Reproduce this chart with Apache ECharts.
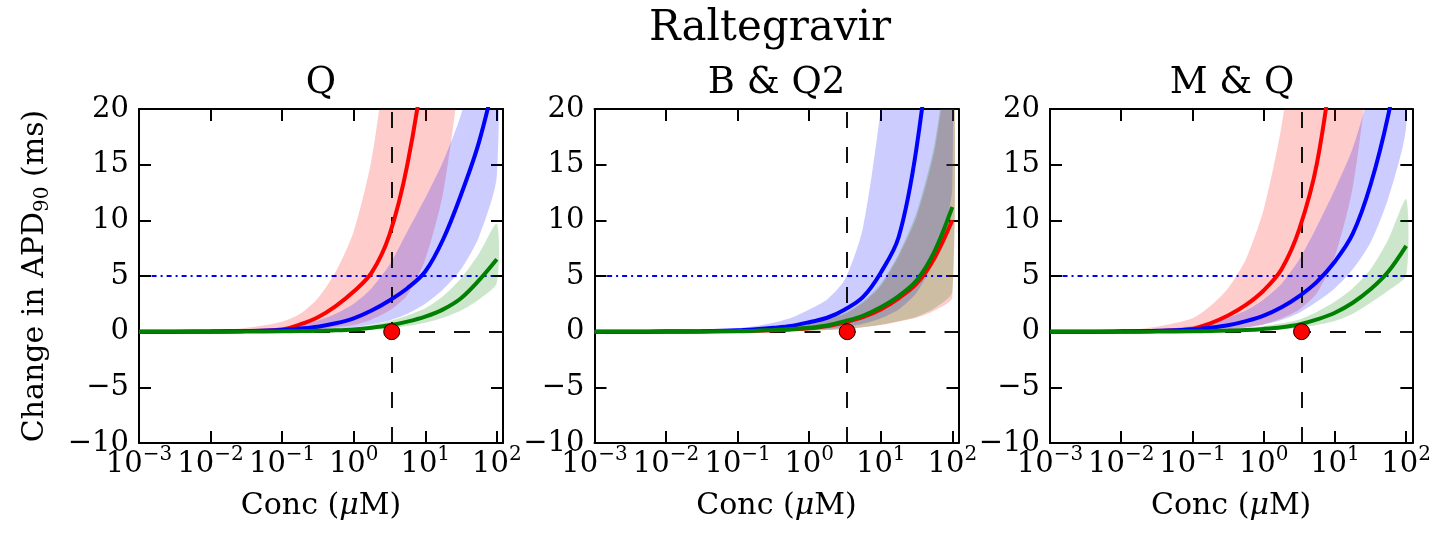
<!DOCTYPE html>
<html><head><meta charset="utf-8">
<script src="https://cdn.jsdelivr.net/npm/echarts@6/dist/echarts.min.js"></script>
<style>html,body{margin:0;padding:0;background:#fff}#c{width:1434px;height:533px}</style>
</head><body><div id="c"></div>
<script>
// ---------------- data ----------------
const MAIN_TITLE = 'Raltegravir';
const PANEL_TITLES = ['Q', 'B & Q2', 'M & Q'];
const CONC = [0.001, 0.00316, 0.01, 0.0316, 0.1, 0.178, 0.316, 0.562, 1, 1.78, 3.16, 5.62, 10, 17.8, 31.6, 56.2, 100];

const Q_RED      = [0, 0, 0.01, 0.05, 0.2, 0.65, 1.3, 2.3, 3.6, 5.3, 8.7, 15, 25, 40, 60, 80, 100];
const Q_RED_HI   = [0, 0.02, 0.08, 0.35, 0.9, 1.6, 3.0, 5.4, 9.0, 15.5, 27, 40, 55, 75, 100, 125, 150];
const Q_RED_LO   = [0, 0, 0, 0.01, 0.05, 0.1, 0.2, 0.4, 0.6, 1.1, 1.9, 3.3, 6.5, 12.5, 24, 40, 60];
const Q_BLUE     = [0, 0, 0.02, 0.06, 0.15, 0.28, 0.45, 0.75, 1.2, 1.9, 2.8, 3.9, 5.4, 8.3, 12.3, 17, 23.5];
const Q_BLUE_HI  = [0, 0.01, 0.05, 0.15, 0.4, 0.65, 1.0, 1.6, 2.5, 3.9, 6.0, 9.0, 12, 15.3, 19.5, 26, 33];
const Q_BLUE_LO  = [0, 0, 0, 0.01, 0.05, 0.08, 0.15, 0.25, 0.4, 0.65, 1.0, 1.6, 2.5, 3.8, 5.6, 8.5, 14];
const Q_GREEN    = [0, 0, 0, 0.01, 0.03, 0.05, 0.08, 0.12, 0.2, 0.35, 0.57, 0.9, 1.35, 2.0, 3.0, 4.6, 6.5];
const Q_GREEN_HI = [0, 0, 0, 0.02, 0.06, 0.1, 0.15, 0.23, 0.35, 0.6, 0.95, 1.45, 2.1, 3.2, 4.8, 7.0, 9.7];
const Q_GREEN_LO = [0, 0, 0, 0, 0.01, 0.02, 0.04, 0.06, 0.1, 0.18, 0.3, 0.5, 0.8, 1.25, 1.9, 2.9, 4.4];

const B_RED      = [0, 0, 0.01, 0.02, 0.04, 0.08, 0.13, 0.2, 0.3, 0.5, 0.85, 1.3, 2.0, 3.0, 4.3, 6.6, 10.0];
const B_RED_HI   = [0, 0, 0.02, 0.05, 0.12, 0.2, 0.32, 0.5, 0.8, 1.15, 1.6, 2.6, 4.1, 6.8, 10.3, 16.2, 26];
const B_RED_LO   = [0, 0, 0, 0, 0.01, 0.02, 0.03, 0.05, 0.08, 0.15, 0.25, 0.4, 0.6, 0.9, 1.25, 1.9, 3.1];
const B_BLUE     = [0, 0, 0.01, 0.04, 0.12, 0.22, 0.35, 0.52, 0.85, 1.25, 2.0, 3.1, 5.3, 8.5, 16.5, 30, 50];
const B_BLUE_HI  = [0, 0.01, 0.04, 0.1, 0.3, 0.5, 0.8, 1.25, 2.0, 2.9, 4.7, 9.3, 20, 35, 55, 80, 120];
const B_BLUE_LO  = [0, 0, 0, 0.01, 0.02, 0.04, 0.06, 0.1, 0.15, 0.25, 0.4, 0.7, 1.2, 2.0, 3.5, 6.5, 13];
const B_GREEN    = [0, 0, 0.01, 0.02, 0.05, 0.09, 0.15, 0.23, 0.35, 0.56, 0.95, 1.43, 2.2, 3.2, 4.6, 7.2, 11.2];
const B_GREEN_HI = [0, 0, 0.02, 0.05, 0.12, 0.2, 0.32, 0.5, 0.8, 1.15, 1.7, 2.7, 4.3, 7.0, 10.7, 16.8, 27];
const B_GREEN_LO = [0, 0, 0, 0, 0.01, 0.02, 0.03, 0.05, 0.08, 0.15, 0.25, 0.4, 0.62, 0.95, 1.35, 2.1, 3.6];

const M_RED      = [0, 0, 0.01, 0.06, 0.25, 0.75, 1.45, 2.4, 3.7, 5.6, 9.2, 15.2, 26, 40, 60, 80, 100];
const M_RED_HI   = [0, 0.03, 0.12, 0.45, 1.2, 2.3, 3.9, 6.5, 11, 18.5, 30, 45, 60, 80, 110, 150, 200];
const M_RED_LO   = [0, 0, 0, 0.01, 0.05, 0.1, 0.2, 0.4, 0.65, 1.2, 2.0, 3.5, 6.8, 13, 25, 40, 60];
const M_BLUE     = [0, 0, 0.03, 0.08, 0.2, 0.35, 0.57, 0.95, 1.45, 2.2, 3.2, 4.5, 6.3, 8.8, 13.2, 19.5, 28];
const M_BLUE_HI  = [0, 0.01, 0.06, 0.18, 0.5, 0.8, 1.25, 1.9, 2.9, 4.3, 6.5, 9.5, 12.8, 16.5, 22, 30, 40];
const M_BLUE_LO  = [0, 0, 0.01, 0.03, 0.08, 0.13, 0.2, 0.35, 0.65, 1.05, 1.7, 2.7, 3.9, 5.6, 8.0, 12, 18.5];
const M_GREEN    = [0, 0, 0, 0.01, 0.04, 0.06, 0.1, 0.15, 0.25, 0.4, 0.65, 1.1, 1.7, 2.6, 3.8, 5.4, 7.7];
const M_GREEN_HI = [0, 0, 0.01, 0.03, 0.08, 0.12, 0.2, 0.3, 0.5, 0.75, 1.1, 1.8, 2.7, 3.9, 5.6, 8.3, 11.9];
const M_GREEN_LO = [0, 0, 0, 0, 0.01, 0.02, 0.05, 0.08, 0.12, 0.2, 0.35, 0.6, 0.95, 1.6, 2.6, 3.7, 5.1];

const CMAX = 3.4;
const THRESHOLD = 5;
const THRESHOLD_X = [0.0015, 90];
const Y_MIN = -10, Y_MAX = 20, Y_STEP = 5;
const X_MIN = 0.001, X_MAX = 122;

// ---------------- layout / style ----------------
const FONT = 'DejaVu Serif';
const GRID_LEFT = [139, 594.5, 1050];
const GRID_TOP = 109, GRID_W = 364, GRID_H = 334;
const COLORS = {red: '#ff0000', blue: '#0000ff', green: '#008000'};
const BAND = {red: 'rgba(255,0,0,0.2)', blue: 'rgba(0,0,255,0.2)', green: 'rgba(0,128,0,0.2)'};

const PANELS = [
  {red: Q_RED, redLo: Q_RED_LO, redHi: Q_RED_HI, blue: Q_BLUE, blueLo: Q_BLUE_LO, blueHi: Q_BLUE_HI, green: Q_GREEN, greenLo: Q_GREEN_LO, greenHi: Q_GREEN_HI},
  {red: B_RED, redLo: B_RED_LO, redHi: B_RED_HI, blue: B_BLUE, blueLo: B_BLUE_LO, blueHi: B_BLUE_HI, green: B_GREEN, greenLo: B_GREEN_LO, greenHi: B_GREEN_HI},
  {red: M_RED, redLo: M_RED_LO, redHi: M_RED_HI, blue: M_BLUE, blueLo: M_BLUE_LO, blueHi: M_BLUE_HI, green: M_GREEN, greenLo: M_GREEN_LO, greenHi: M_GREEN_HI}
];

function xLabel(v) {
  const e = Math.log10(v);
  const r = Math.round(e);
  if (Math.abs(e - r) > 0.02) return '';
  const s = r < 0 ? '\u2212' + (-r) : String(r);
  return '{b|10}{s|' + s + '}';
}
function yLabel(v) { return v < 0 ? '\u2212' + (-v) : String(v); }

const axisLineStyle = {show: true, onZero: false, lineStyle: {color: '#000', width: 2}};
const axisTickStyle = {show: true, inside: true, length: 12, lineStyle: {color: '#000', width: 2}};

const grids = [], xAxes = [], yAxes = [], series = [];

function bandSeries(i, lo, hi, color) {
  return {
    type: 'custom', xAxisIndex: 2 * i, yAxisIndex: 2 * i, z: 1, clip: true, silent: true,
    data: CONC.map((c, k) => [c, lo[k], hi[k]]),
    encode: {x: 0, y: [1, 2]},
    renderItem: function (params, api) {
      if (params.dataIndex !== 0) return null;
      const top = CONC.map((c, k) => api.coord([c, hi[k]]));
      const bot = CONC.map((c, k) => api.coord([c, lo[k]])).reverse();
      if (lo[0] === hi[0]) bot.pop();
      return {type: 'polygon', shape: {points: top.concat(bot), smooth: 0.25}, style: {fill: color}};
    }
  };
}
function lineSeries(i, vals, color) {
  return {
    type: 'line', xAxisIndex: 2 * i, yAxisIndex: 2 * i, z: 4, silent: true,
    data: CONC.map((c, k) => [c, vals[k]]),
    showSymbol: false, symbol: 'none', smooth: 0.35, clip: true,
    lineStyle: {color: color, width: 4}
  };
}

PANELS.forEach((p, i) => {
  grids.push({left: GRID_LEFT[i], top: GRID_TOP, width: GRID_W, height: GRID_H, containLabel: false});
  const xBase = {type: 'log', logBase: 10, gridIndex: i, min: X_MIN, max: X_MAX,
    splitLine: {show: false}, axisLine: axisLineStyle, axisTick: axisTickStyle, minorTick: {show: false}};
  xAxes.push(Object.assign({}, xBase, {
    position: 'bottom',
    axisLabel: {formatter: xLabel, margin: 2, color: '#000',
      rich: {b: {fontFamily: FONT, fontSize: 29, color: '#000'},
             s: {fontFamily: FONT, fontSize: 20, color: '#000', padding: [0, 0, 18, 0]}}},
    name: 'Conc ({i|\u03bc}M)', nameLocation: 'middle', nameGap: 48,
    nameTextStyle: {fontFamily: FONT, fontSize: 30, color: '#000',
      rich: {i: {fontFamily: FONT, fontSize: 30, fontStyle: 'italic', color: '#000'}}}
  }));
  xAxes.push(Object.assign({}, xBase, {position: 'top', axisLabel: {show: false}}));
  const yBase = {type: 'value', gridIndex: i, min: Y_MIN, max: Y_MAX, interval: Y_STEP,
    splitLine: {show: false}, axisLine: axisLineStyle, axisTick: axisTickStyle};
  const yLeft = Object.assign({}, yBase, {
    position: 'left',
    axisLabel: {formatter: yLabel, margin: 10, color: '#000', fontFamily: FONT, fontSize: 29}
  });
  if (i === 0) {
    Object.assign(yLeft, {
      name: '{a|Change in APD}{s|90}{a| (ms)}', nameLocation: 'middle', nameGap: 86, nameRotate: 90,
      nameTextStyle: {fontFamily: FONT, fontSize: 30, color: '#000',
        rich: {a: {fontFamily: FONT, fontSize: 30, color: '#000'},
               s: {fontFamily: FONT, fontSize: 20, color: '#000', padding: [16, 0, 0, 0]}}}
    });
  }
  yAxes.push(yLeft);
  yAxes.push(Object.assign({}, yBase, {position: 'right', axisLabel: {show: false}}));

  series.push(bandSeries(i, p.redLo, p.redHi, BAND.red));
  series.push(bandSeries(i, p.blueLo, p.blueHi, BAND.blue));
  series.push(bandSeries(i, p.greenLo, p.greenHi, BAND.green));
  series.push({
    type: 'line', xAxisIndex: 2 * i, yAxisIndex: 2 * i, z: 3, silent: true,
    data: THRESHOLD_X.map(x => [x, THRESHOLD]), symbol: 'none', showSymbol: false,
    lineStyle: {color: '#0000ff', width: 2, type: [5, 4, 2, 4]},
    markLine: {silent: true, symbol: 'none', z: 3, label: {show: false},
      lineStyle: {color: '#111', width: 2, type: [16, 19]},
      emphasis: {disabled: true},
      data: [{yAxis: 0}, {xAxis: CMAX}]}
  });
  series.push(lineSeries(i, p.red, COLORS.red));
  series.push(lineSeries(i, p.blue, COLORS.blue));
  series.push(lineSeries(i, p.green, COLORS.green));
  series.push({
    type: 'scatter', xAxisIndex: 2 * i, yAxisIndex: 2 * i, z: 10, silent: true,
    data: [[CMAX, 0]], symbol: 'circle', symbolSize: 16,
    itemStyle: {color: '#ff0000', borderColor: '#000', borderWidth: 1, opacity: 1}
  });
});

const graphic = [{type: 'text', x: 770, y: 29, silent: true,
  style: {text: MAIN_TITLE, font: '42px "DejaVu Serif"', fill: '#000', align: 'center', verticalAlign: 'middle', textAlign: 'center', textVerticalAlign: 'middle'}}];
PANEL_TITLES.forEach((t, i) => {
  graphic.push({type: 'text', x: GRID_LEFT[i] + GRID_W / 2, y: 83, silent: true,
    style: {text: t, font: '37px "DejaVu Serif"', fill: '#000', align: 'center', verticalAlign: 'middle', textAlign: 'center', textVerticalAlign: 'middle'}});
});

const chart = echarts.init(document.getElementById('c'), null, {renderer: 'canvas'});
chart.setOption({
  animation: false,
  backgroundColor: '#fff',
  grid: grids, xAxis: xAxes, yAxis: yAxes, series: series, graphic: graphic
});
</script>
</body></html>
